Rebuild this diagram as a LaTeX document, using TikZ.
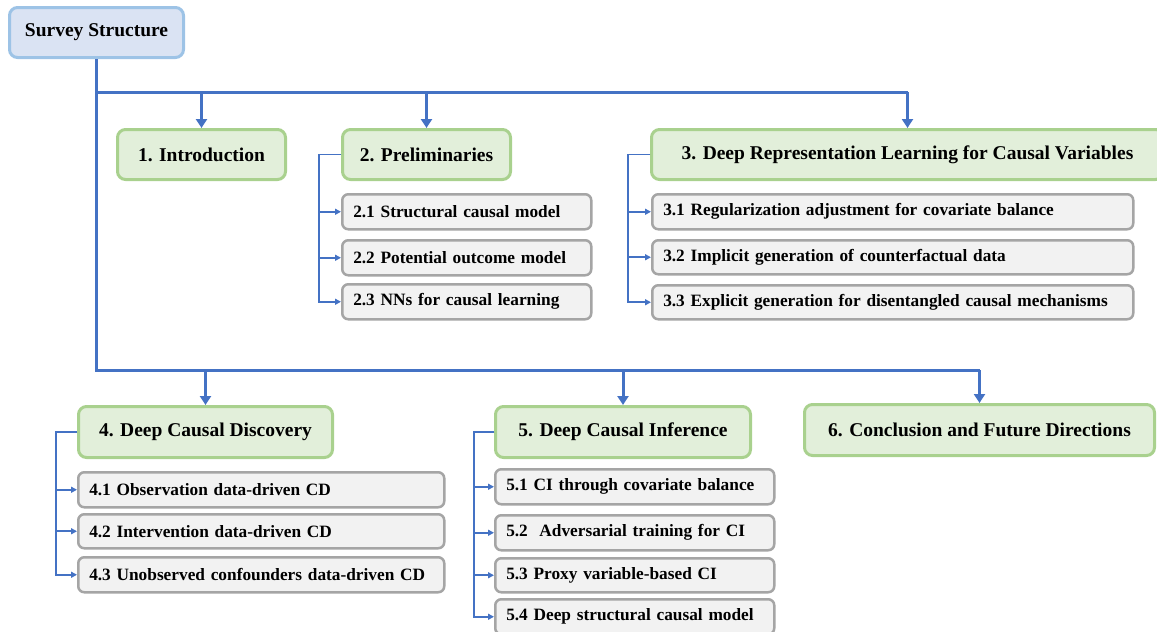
\documentclass[tikz,border=0pt]{standalone}
\usepackage{fontspec}
\setmainfont{Liberation Serif}
\usetikzlibrary{arrows.meta,calc}
\definecolor{lineblue}{HTML}{4472C4}
\definecolor{rootfill}{HTML}{DAE3F3}
\definecolor{rootdraw}{HTML}{9DC3E6}
\definecolor{secfill}{HTML}{E2EFDA}
\definecolor{secdraw}{HTML}{A9D18E}
\definecolor{subfill}{HTML}{F2F2F2}
\definecolor{subdraw}{HTML}{A5A5A5}
\tikzset{
  rootbox/.style={draw=rootdraw, fill=rootfill, line width=3pt, rounded corners=8pt, anchor=north west, inner sep=0pt, font=\fontsize{19.5}{22}\selectfont\bfseries},
  secbox/.style={draw=secdraw, fill=secfill, line width=3pt, rounded corners=8pt, anchor=north west, inner sep=0pt, font=\fontsize{19.5}{22}\selectfont\bfseries},
  subbox/.style={draw=subdraw, fill=subfill, line width=2.5pt, rounded corners=6pt, anchor=north west, inner xsep=11pt, inner ysep=0pt, align=left, font=\fontsize{17.3}{20}\selectfont\bfseries},
  mainline/.style={draw=lineblue, line width=3pt},
  mainarrow/.style={mainline, -{Triangle[width=11pt,length=9pt]}},
  subarrow/.style={draw=lineblue, line width=1.8pt, -{Triangle[width=6pt,length=6pt]}},
}
% \bx{style}{name}{left}{top}{right}{bottom}{text}
\newcommand{\bx}[7]{\node[#1, minimum width=#5pt-#3pt, minimum height=#6pt-#4pt] (#2) at (#3,#4) {#7};}
\newcommand{\sbx}[6]{\node[subbox, minimum width=#4pt-#2pt, minimum height=#5pt-#3pt, text width=#4pt-#2pt-22pt] (#1) at (#2,#3) {#6};}
\begin{document}
\begin{tikzpicture}[x=1pt,y=-1pt]
\useasboundingbox (0,0) rectangle (1157,632);
\clip (0,0) rectangle (1157,632);
% top-level boxes
\bx{rootbox}{root}{8}{6}{182}{56}{Survey Structure}
\bx{secbox}{n1}{116}{128}{284}{178}{1. Introduction}
\bx{secbox}{n2}{341}{128}{509}{178}{2. Preliminaries}
\bx{secbox}{n3}{650}{128}{1162}{178}{3. Deep Representation Learning for Causal Variables}
\bx{secbox}{n4}{77}{405}{331}{456}{4. Deep Causal Discovery}
\bx{secbox}{n5}{494}{405}{749}{456}{5. Deep Causal Inference}
\bx{secbox}{n6}{803}{403}{1153}{454}{6. Conclusion and Future Directions}
% sub boxes
\sbx{s21}{341}{193}{590}{228}{2.1 Structural causal model}
\sbx{s22}{341}{239}{590}{274}{2.2 Potential outcome model}
\sbx{s23}{341}{283}{590}{318}{2.3 NNs for causal learning}
\sbx{s31}{651}{193}{1132}{228}{3.1 Regularization adjustment for covariate balance}
\sbx{s32}{651}{239}{1132}{273}{3.2 Implicit generation of counterfactual data}
\sbx{s33}{651}{284}{1132}{318}{3.3 Explicit generation for disentangled causal mechanisms}
\sbx{s41}{77}{471}{443}{506}{4.1 Observation data-driven CD}
\sbx{s42}{77}{513}{443}{547}{4.2 Intervention data-driven CD}
\sbx{s43}{77}{556}{443}{591}{4.3 Unobserved confounders data-driven CD}
\sbx{s51}{494}{468}{773}{503}{5.1 CI through covariate balance}
\sbx{s52}{494}{514}{773}{549}{5.2\ \ Adversarial training for CI}
\sbx{s53}{494}{557}{773}{591}{5.3 Proxy variable-based CI}
\sbx{s54}{494}{598}{773}{633}{5.4 Deep structural causal model}
% main connectors
\coordinate (h1) at (0,92);
\coordinate (h2) at (0,370);
\draw[mainline] (root.south) |- (n3.north |- h1);
\draw[mainarrow] (n3.north |- h1) -- (n3.north);
\draw[mainarrow] (n1.north |- h1) -- (n1.north);
\draw[mainarrow] (n2.north |- h1) -- (n2.north);
\draw[mainline] (root.south |- h1) |- (n6.north |- h2);
\draw[mainarrow] (n6.north |- h2) -- (n6.north);
\draw[mainarrow] (n4.north |- h2) -- (n4.north);
\draw[mainarrow] (n5.north |- h2) -- (n5.north);
% sub connectors
\foreach \s in {s21,s22,s23}{\draw[subarrow] (n2.west) -- ++(-22,0) |- (\s.west);}
\foreach \s in {s31,s32,s33}{\draw[subarrow] (n3.west) -- ++(-22,0) |- (\s.west);}
\foreach \s in {s41,s42,s43}{\draw[subarrow] (n4.west) -- ++(-21,0) |- (\s.west);}
\foreach \s in {s51,s52,s53,s54}{\draw[subarrow] (n5.west) -- ++(-20,0) |- (\s.west);}
\end{tikzpicture}
\end{document}
